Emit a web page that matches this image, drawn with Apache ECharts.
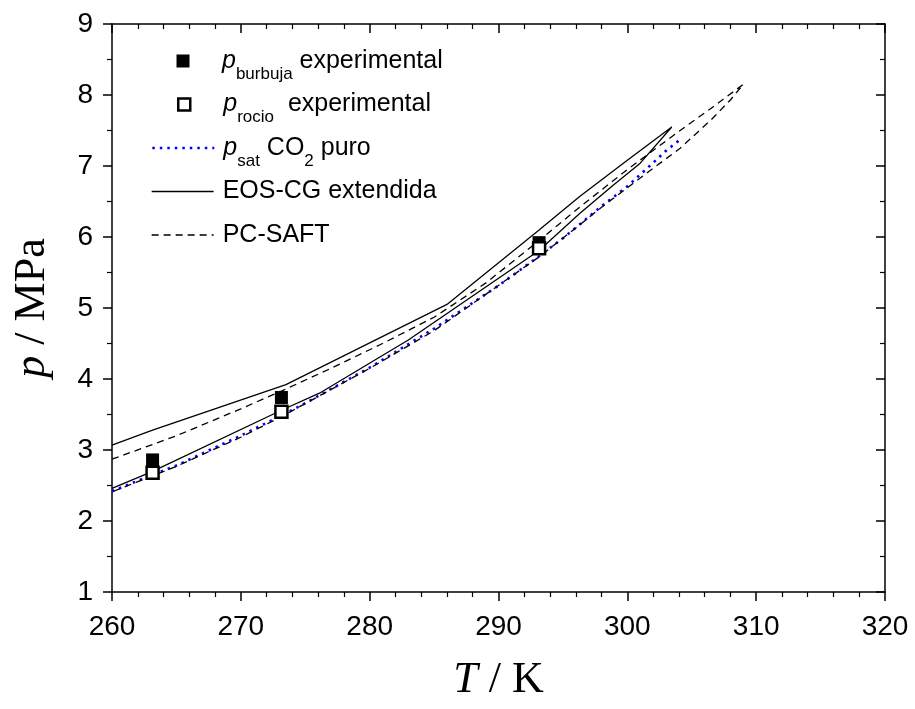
<!DOCTYPE html>
<html><head><meta charset="utf-8">
<script src="https://cdn.jsdelivr.net/npm/echarts@6/dist/echarts.min.js"></script>
<style>html,body{margin:0;padding:0;background:#fff}#c{width:915px;height:709px}</style>
</head><body><div id="c"></div>
<script>
// ---- data ----
const xTickLabels = [260, 270, 280, 290, 300, 310, 320];
const yTickLabels = [1, 2, 3, 4, 5, 6, 7, 8, 9];

const bubbleT = [263.15, 273.15, 293.15];
const bubbleP = [2.86, 3.74, 5.92];
const dewT = [263.15, 273.15, 293.15];
const dewP = [2.68, 3.54, 5.84];

const satT = [260, 263.15, 265, 270, 273.15, 275, 280, 285, 290, 293.15, 295, 298, 300, 302, 303, 304.13];
const satP = [2.419, 2.651, 2.781, 3.203, 3.485, 3.659, 4.160, 4.710, 5.315, 5.729, 5.982, 6.434, 6.713, 7.045, 7.214, 7.377];

const eosT = [260, 263.15, 273.5, 286, 293.15, 296.3, 300, 303.45, 301, 298.9, 296.3, 293.15, 283, 276.1, 273.15, 263.15, 260];
const eosP = [3.07, 3.28, 3.92, 5.05, 6.10, 6.57, 7.08, 7.55, 7.04, 6.73, 6.33, 5.81, 4.55, 3.80, 3.56, 2.70, 2.46];

const saftT = [260, 265, 270, 273.15, 277, 281, 285, 289, 293.15, 296.3, 300, 304.1, 306.4, 309, 308, 306.5, 304.1, 301.5, 298, 296.3, 293.15, 285, 280, 273.15, 270, 265, 260];
const saftP = [2.87, 3.20, 3.58, 3.83, 4.15, 4.50, 4.87, 5.35, 5.95, 6.42, 6.95, 7.50, 7.80, 8.15, 7.93, 7.65, 7.25, 6.90, 6.42, 6.17, 5.72, 4.68, 4.15, 3.47, 3.18, 2.77, 2.41];

const zip = (a, b) => a.map((v, i) => [v, b[i]]);

const SANS = "'Liberation Sans', Arial, sans-serif";
const SERIF = "'Liberation Serif', 'Times New Roman', serif";

function makeRich(lead) {
  return {
    pi: {fontFamily: SANS, fontStyle: 'italic', fontSize: 25, lineHeight: 28, padding: [9, 0, 9, lead], verticalAlign: 'middle', color: '#000'},
    t0: {fontFamily: SANS, fontSize: 25, lineHeight: 28, padding: [9, 0, 9, lead], verticalAlign: 'middle', color: '#000'},
    t: {fontFamily: SANS, fontSize: 25, lineHeight: 28, padding: [9, 0, 9, 0], verticalAlign: 'middle', color: '#000'},
    sub: {fontFamily: SANS, fontSize: 17, lineHeight: 20, padding: [26, 0, 0, 0], verticalAlign: 'middle', color: '#000'}
  };
}
const legendText = {
  bubble: '{pi|p}{sub|burbuja}{t| experimental}',
  dew: '{pi|p}{sub|rocio}{t|  experimental}',
  sat: '{pi|p}{sub|sat}{t| CO}{sub|2}{t| puro}',
  eos: '{t0|EOS-CG extendida}',
  saft: '{t0|PC-SAFT}'
};
const rowCenters = [62.5, 106, 149.5, 193, 236.5];
const legendNames = ['bubble', 'dew', 'sat', 'eos', 'saft'];
const lineStyles = {
  sat: {color: '#0000ff', width: 2.6, type: [2.5, 5]},
  eos: {color: '#000', width: 1.3, type: 'solid'},
  saft: {color: '#000', width: 1.3, type: [7, 5]}
};

const legends = legendNames.map((n, i) => {
  const isSq = (n === 'bubble' || n === 'dew');
  const sz = n === 'bubble' ? 13 : 12;
  const left = isSq ? 183 - sz / 2 : 151;
  const iw = isSq ? sz : 62;
  const ih = isSq ? sz : 14;
  const lead = 222 - (left + iw + 5);
  const l = {
    data: [isSq ? {name: n, icon: 'rect'} : n],
    orient: 'vertical', left: left, top: rowCenters[i] - 23, padding: 0,
    itemWidth: iw, itemHeight: ih, selectedMode: false,
    formatter: () => legendText[n],
    textStyle: {rich: makeRich(lead), color: '#000'}
  };
  if (n === 'bubble') l.itemStyle = {color: '#000', borderWidth: 0};
  else if (n === 'dew') l.itemStyle = {color: '#fff', borderColor: '#000', borderWidth: 2.5};
  else {
    l.itemStyle = {color: 'rgba(0,0,0,0)', borderColor: 'rgba(0,0,0,0)', borderWidth: 0, opacity: 0};
    l.lineStyle = lineStyles[n];
  }
  return l;
});

const axisLineStyle = {color: '#000', width: 1.5};
const common = {
  type: 'value', splitLine: {show: false},
  axisLine: {show: true, onZero: false, lineStyle: axisLineStyle}
};
const titleRich = {
  i: {fontFamily: SERIF, fontStyle: 'italic', fontSize: 44, color: '#000'},
  r: {fontFamily: SERIF, fontSize: 44, color: '#000'}
};

const option = {
  animation: false,
  backgroundColor: '#fff',
  grid: {left: 112, right: 30, top: 24, bottom: 117, containLabel: false},
  legend: legends,
  xAxis: [
    Object.assign({}, common, {
      position: 'bottom', min: xTickLabels[0], max: xTickLabels[xTickLabels.length - 1], interval: 10,
      axisTick: {show: true, inside: false, length: 9, lineStyle: {color: '#000', width: 1.5}},
      minorTick: {show: true, splitNumber: 5, length: 5, lineStyle: {color: '#000', width: 1.2}},
      axisLabel: {color: '#000', fontFamily: SANS, fontSize: 28, margin: 21},
      name: '{i|T}{r| / K}', nameLocation: 'middle', nameGap: 66,
      nameTextStyle: {rich: titleRich}
    }),
    Object.assign({}, common, {
      position: 'top', min: xTickLabels[0], max: xTickLabels[xTickLabels.length - 1], interval: 10,
      axisTick: {show: true, inside: true, length: 9, lineStyle: {color: '#000', width: 1.5}},
      minorTick: {show: true, splitNumber: 5, length: 5, lineStyle: {color: '#000', width: 1.2}},
      axisLabel: {show: false}
    })
  ],
  yAxis: [
    Object.assign({}, common, {
      position: 'left', min: yTickLabels[0], max: yTickLabels[yTickLabels.length - 1], interval: 1,
      axisTick: {show: true, inside: false, length: 9, lineStyle: {color: '#000', width: 1.5}},
      minorTick: {show: true, splitNumber: 2, length: 5, lineStyle: {color: '#000', width: 1.2}},
      axisLabel: {color: '#000', fontFamily: SANS, fontSize: 28, margin: 19},
      name: '{i|p}{r| / MPa}', nameLocation: 'middle', nameGap: 58, nameRotate: 90,
      nameTextStyle: {rich: titleRich}
    }),
    Object.assign({}, common, {
      position: 'right', min: yTickLabels[0], max: yTickLabels[yTickLabels.length - 1], interval: 1,
      axisTick: {show: true, inside: true, length: 9, lineStyle: {color: '#000', width: 1.5}},
      minorTick: {show: true, splitNumber: 2, length: 5, lineStyle: {color: '#000', width: 1.2}},
      axisLabel: {show: false}
    })
  ],
  series: [
    {name: 'sat', type: 'line', data: zip(satT, satP), symbol: 'none', z: 2,
     lineStyle: lineStyles.sat, itemStyle: {color: '#0000ff'}},
    {name: 'eos', type: 'line', data: zip(eosT, eosP), symbol: 'none', z: 3,
     lineStyle: lineStyles.eos, itemStyle: {color: '#000'}},
    {name: 'saft', type: 'line', data: zip(saftT, saftP), symbol: 'none', z: 3,
     lineStyle: lineStyles.saft, itemStyle: {color: '#000'}},
    {name: 'bubble', type: 'scatter', data: zip(bubbleT, bubbleP), symbol: 'rect', symbolSize: 13, z: 5,
     itemStyle: {color: '#000', opacity: 1}},
    {name: 'dew', type: 'scatter', data: zip(dewT, dewP), symbol: 'rect', symbolSize: 12, z: 6,
     itemStyle: {color: '#fff', borderColor: '#000', borderWidth: 2.5, opacity: 1}}
  ]
};

const chart = echarts.init(document.getElementById('c'), null, {renderer: 'canvas'});
chart.setOption(option);
</script>
</body></html>
